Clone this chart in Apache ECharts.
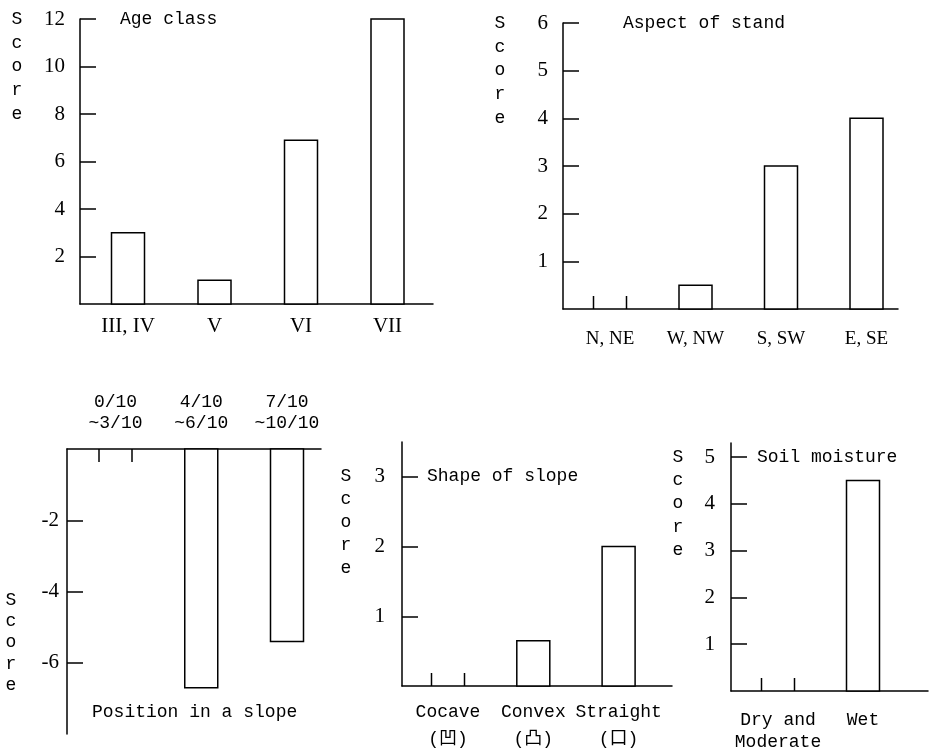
<!DOCTYPE html>
<html>
<head>
<meta charset="utf-8">
<script src="https://cdn.jsdelivr.net/npm/echarts@6/dist/echarts.min.js"></script>
<style>
html,body{margin:0;padding:0;background:#fff;}
#chart{width:930px;height:753px;}
</style>
</head>
<body>
<div id="chart"></div>
<script>
// ---------- DATA ----------
const ageClasses = ['III, IV', 'V', 'VI', 'VII'];
const ageScores = [3, 1, 6.9, 12];
const ageTicks = [2, 4, 6, 8, 10, 12];

const aspects = ['N, NE', 'W, NW', 'S, SW', 'E, SE'];
const aspectScores = [0, 0.5, 3, 4];
const aspectTicks = [1, 2, 3, 4, 5, 6];

const positions = ['0/10\n~3/10', '4/10\n~6/10', '7/10\n~10/10'];
const positionScores = [0, -6.7, -5.4];
const positionTicks = [-2, -4, -6];

const shapes = ['Cocave\n(凹)', 'Convex\n(凸)', 'Straight\n(口)'];
const shapeScores = [0, 0.65, 2];
const shapeTicks = [1, 2, 3];

const moistures = ['Dry and\nModerate', 'Wet'];
const moistureScores = [0, 4.5];
const moistureTicks = [1, 2, 3, 4, 5];

// ---------- LAYOUT ----------
const SERIF = '"Liberation Serif", "Times New Roman", serif';
const MONO = '"Liberation Mono", "Noto Sans CJK JP", monospace';
const BLACK = '#000';
const BAR_W = 33;

const panels = [
  {cats: ageClasses, vals: ageScores, ticks: ageTicks, yMin: 0, yMax: 12,
   left: 80, top: 19, width: 353, height: 285, spacing: 86.5, offset: 48,
   xPos: 'bottom', catFont: SERIF, catSize: 21, catLH: 21, catMargin: 12,
   yMargin: 15, dir: -1},
  {cats: aspects, vals: aspectScores, ticks: aspectTicks, yMin: 0, yMax: 6,
   left: 563, top: 23, width: 335, height: 286, spacing: 85.5, offset: 47,
   xPos: 'bottom', catFont: SERIF, catSize: 19, catLH: 19, catMargin: 21,
   yMargin: 15, dir: -1},
  {cats: positions, vals: positionScores, ticks: positionTicks, yMin: -8, yMax: 0,
   left: 67, top: 449, width: 254, height: 285, spacing: 85.75, offset: 48.5,
   xPos: 'top', catFont: MONO, catSize: 18, catLH: 21, catMargin: 15,
   yMargin: 8, dir: 1},
  {cats: shapes, vals: shapeScores, ticks: shapeTicks, yMin: 0, yMax: 3.5,
   left: 402, top: 442, width: 270, height: 247, spacing: 85.3, offset: 46,
   xPos: 'bottom', catFont: MONO, catSize: 18, catLH: 27, catMargin: 13,
   yMargin: 17, dir: -1},
  {cats: moistures, vals: moistureScores, ticks: moistureTicks, yMin: 0, yMax: 5.3,
   left: 731, top: 443, width: 197, height: 250, spacing: 85, offset: 47,
   xPos: 'bottom', catFont: MONO, catSize: 18, catLH: 22, catMargin: 18,
   yMargin: 16, dir: -1}
];

function renderBar(dir) {
  return function (params, api) {
    const x = api.value(0), v = api.value(1);
    const base = api.coord([x, 0]);
    const tip = api.coord([x, v]);
    const half = BAR_W / 2;
    const st = {stroke: BLACK, lineWidth: 1.5, fill: '#fff'};
    if (v === 0) {
      const len = 13;
      return {type: 'group', children: [
        {type: 'line', shape: {x1: base[0] - half, y1: base[1], x2: base[0] - half, y2: base[1] + dir * len}, style: {stroke: BLACK, lineWidth: 1.5}},
        {type: 'line', shape: {x1: base[0] + half, y1: base[1], x2: base[0] + half, y2: base[1] + dir * len}, style: {stroke: BLACK, lineWidth: 1.5}}
      ]};
    }
    return {type: 'rect', shape: {x: base[0] - half, y: Math.min(base[1], tip[1]), width: BAR_W, height: Math.abs(tip[1] - base[1])}, style: st};
  };
}

const grids = [], xAxes = [], yAxes = [], series = [];
panels.forEach((p, k) => {
  const pad = p.offset / p.spacing;
  const xMax = p.width / p.spacing;
  const centers = p.cats.map((c, i) => pad + i);
  grids.push({left: p.left, top: p.top, width: p.width, height: p.height, containLabel: false});
  xAxes.push({
    type: 'value', gridIndex: k, min: 0, max: xMax, position: p.xPos,
    axisLine: {show: true, onZero: true, lineStyle: {color: BLACK, width: 1.5}},
    axisTick: {show: false},
    splitLine: {show: false},
    axisLabel: {
      customValues: centers,
      formatter: (val) => p.cats[Math.round(val - pad)] || '',
      color: BLACK, fontFamily: p.catFont, fontSize: p.catSize, lineHeight: p.catLH,
      margin: p.catMargin, hideOverlap: false
    }
  });
  yAxes.push({
    type: 'value', gridIndex: k, min: p.yMin, max: p.yMax,
    axisLine: {show: true, onZero: false, lineStyle: {color: BLACK, width: 1.5}},
    axisTick: {show: true, inside: true, length: 16, customValues: p.ticks, lineStyle: {color: BLACK, width: 1.5}},
    splitLine: {show: false},
    axisLabel: {customValues: p.ticks, color: BLACK, fontFamily: SERIF, fontSize: 21, margin: p.yMargin}
  });
  series.push({
    type: 'custom', xAxisIndex: k, yAxisIndex: k,
    renderItem: renderBar(p.dir),
    data: p.vals.map((v, i) => [centers[i], v]),
    encode: {x: 0, y: 1},
    silent: true, animation: false
  });
});

function scoreText(x, firstY, lh) {
  return {type: 'text', x: x, y: firstY - lh / 2, style: {
    text: 'S\nc\no\nr\ne', fontFamily: MONO, fontSize: 18, lineHeight: lh,
    align: 'center', verticalAlign: 'top', fill: BLACK}};
}
function label(text, x, y) {
  return {type: 'text', x: x, y: y, style: {
    text: text, fontFamily: MONO, fontSize: 18, align: 'left', verticalAlign: 'middle', fill: BLACK}};
}

const option = {
  backgroundColor: '#fff',
  animation: false,
  grid: grids, xAxis: xAxes, yAxis: yAxes, series: series,
  graphic: [
    scoreText(17, 19, 23.75),
    scoreText(500, 23, 23.75),
    scoreText(11, 600, 21.25),
    scoreText(346, 476, 23),
    scoreText(678, 457, 23.25),
    label('Age class', 120, 19),
    label('Aspect of stand', 623, 23),
    label('Position in a slope', 92, 712),
    label('Shape of slope', 427, 476),
    label('Soil moisture', 757, 457)
  ]
};

const chart = echarts.init(document.getElementById('chart'), null, {renderer: 'canvas'});
chart.setOption(option);
</script>
</body>
</html>
